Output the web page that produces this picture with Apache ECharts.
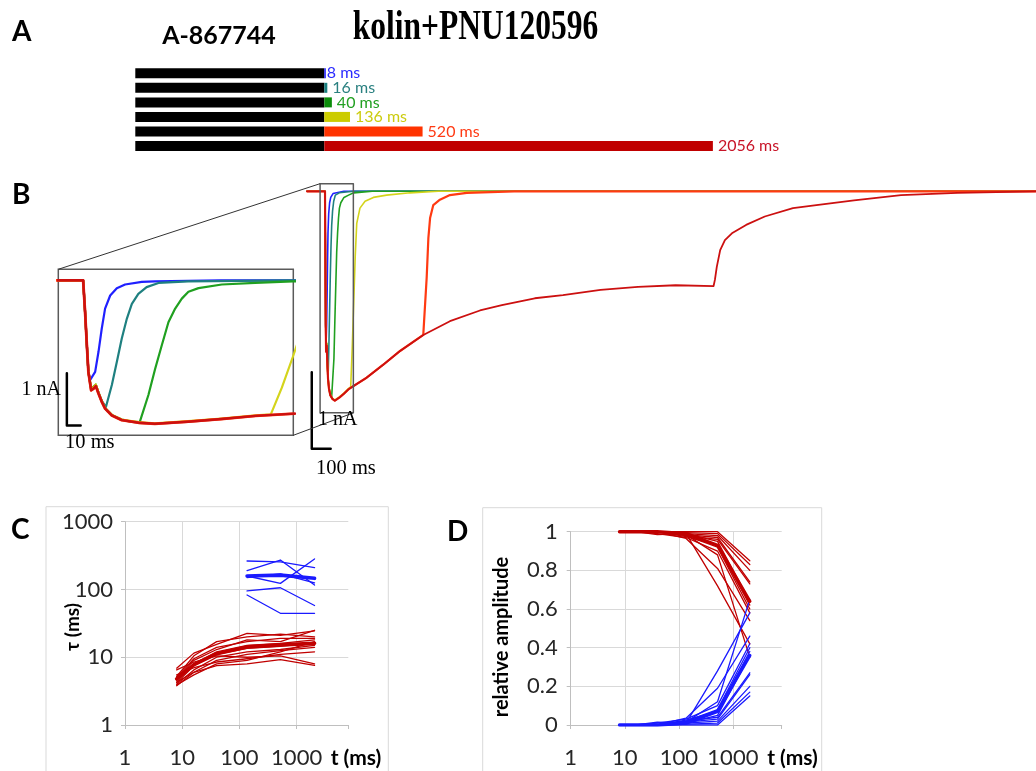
<!DOCTYPE html>
<html>
<head>
<meta charset="utf-8">
<script src="https://cdn.jsdelivr.net/npm/echarts@6/dist/echarts.min.js"></script>
<style>
  html, body { margin: 0; padding: 0; background: #ffffff; }
  #chart { width: 1036px; height: 771px; }
</style>
</head>
<body>
<div id="chart"></div>
<script>
// ---------- Panel A: application protocol ----------
const pulseNames = ['8 ms', '16 ms', '40 ms', '136 ms', '520 ms', '2056 ms'];
const prepulseMs = [1000, 1000, 1000, 1000, 1000, 1000];
const pulseMs = [8, 16, 40, 136, 520, 2056];

// ---------- Panel B: current traces, [time from pulse onset (ms), current (nA)] ----------
const trace8 = [[-95,0],[0,0],[1.4,-0.6],[2.7,-1.24],[3.8,-1.75],[5.2,-1.9],[6.5,-1.93],[8.7,-1.75],[11.1,-1.37],[13.5,-0.92],[15.9,-0.54],[19.6,-0.29],[24.4,-0.15],[30.4,-0.08],[42.5,-0.03],[52,-0.02],[100,0],[3760,0]];
const trace16 = [[-95,0],[0,0],[1.4,-0.6],[2.7,-1.24],[3.8,-1.75],[5.8,-2.08],[7.5,-2.05],[9.2,-2.0],[11.1,-2.14],[13.5,-2.3],[16.5,-2.42],[20.8,-2.0],[24.4,-1.56],[28,-1.11],[31.7,-0.73],[35.3,-0.45],[40,-0.26],[46,-0.13],[54.6,-0.05],[76,-0.02],[150,0],[3760,0]];
const trace40 = [[-95,0],[0,0],[1.4,-0.6],[2.7,-1.24],[3.8,-1.75],[5.8,-2.06],[7.5,-2.03],[9.2,-1.99],[11.1,-2.14],[13.5,-2.31],[15.9,-2.44],[20.8,-2.57],[28,-2.66],[35,-2.7],[41,-2.71],[47.3,-2.19],[52.2,-1.69],[57,-1.24],[61.8,-0.8],[66.7,-0.54],[71.5,-0.35],[76.3,-0.22],[83.6,-0.15],[100.5,-0.08],[124.6,-0.05],[152,-0.02],[250,0],[3760,0]];
const trace136 = [[-95,0],[0,0],[1.4,-0.6],[2.7,-1.24],[3.8,-1.75],[5.8,-2.07],[7.5,-2.04],[9.2,-1.99],[11.1,-2.14],[13.5,-2.31],[15.9,-2.44],[20.8,-2.57],[28,-2.66],[40,-2.71],[52,-2.73],[76,-2.69],[100,-2.64],[125,-2.58],[136,-2.56],[144,-2.05],[152,-1.46],[160,-0.85],[168,-0.42],[185,-0.22],[212,-0.13],[256,-0.08],[326,-0.05],[450,-0.02],[600,0],[3760,0]];
const trace520 = [[-95,0],[0,0],[1.4,-0.6],[2.7,-1.24],[3.8,-1.75],[5.8,-2.1],[7.5,-2.07],[9.2,-2.02],[11.1,-2.16],[13.5,-2.32],[15.9,-2.45],[20.8,-2.58],[28,-2.67],[40,-2.72],[52,-2.74],[76,-2.7],[100,-2.65],[125,-2.59],[150,-2.55],[220,-2.44],[308,-2.27],[397,-2.09],[520,-1.88],[538,-1.13],[547,-0.61],[556,-0.35],[573,-0.18],[608,-0.11],[661,-0.05],[750,-0.02],[1000,0],[3760,0]];
const trace2056 = [[-95,0],[0,0],[1.4,-0.6],[2.7,-1.24],[3.8,-1.75],[5.8,-2.1],[7.5,-2.07],[9.2,-2.02],[11.1,-2.16],[13.5,-2.32],[15.9,-2.45],[20.8,-2.58],[28,-2.67],[40,-2.72],[52,-2.74],[76,-2.7],[100,-2.65],[125,-2.59],[150,-2.55],[220,-2.44],[308,-2.27],[397,-2.09],[520,-1.88],[661,-1.7],[820,-1.56],[936,-1.49],[1110,-1.4],[1259,-1.36],[1458,-1.29],[1656,-1.25],[1855,-1.23],[2056,-1.24],[2063,-1.16],[2073,-0.99],[2091,-0.77],[2116,-0.64],[2153,-0.55],[2228,-0.44],[2327,-0.33],[2476,-0.22],[2600,-0.18],[2799,-0.12],[3048,-0.05],[3346,-0.02],[3760,0]];

// window shown enlarged in the inset (ms, nA)
const zoomBoxT = [-26, 150];
const zoomBoxI = [-2.9, 0.1];
const insetT = [-18, 152.3];
const insetI = [-2.96, 0.21];
// scale bars: 1 nA / 100 ms (main) and 1 nA / 10 ms (inset)
const scaleBarMain = [[-70, -2.37], [-70, -3.37], [30, -3.37]];
const scaleBarInset = [[-11.8, -1.775], [-11.8, -2.775], [-1.8, -2.775]];

// ---------- Panels C and D: per-cell fits vs. pulse duration ----------
const pulseTimes = [8, 16, 40, 136, 520, 2056];
const slowTimes = [136, 520, 2056];

const tauFastCells = [
  [6.9, 11.5, 15.5, 22.5, 21, 24.5],
  [5.2, 10.5, 17, 20, 22, 20],
  [4.8, 9.0, 13, 18, 17, 25],
  [4.5, 8.0, 12, 15, 16, 18],
  [4.2, 7.5, 11, 13.5, 14.5, 16.5],
  [4.0, 6.5, 10, 12, 13, 15],
  [3.8, 6.0, 9, 11, 12.5, 14],
  [5.5, 7.0, 8.5, 9.5, 11, 12],
  [4.3, 6.0, 7.5, 8.0, 9.2, 7.6],
  [6.5, 8.5, 10.5, 10.0, 10.5, 8.0],
  [3.9, 5.5, 8.0, 9.0, 12, 17],
  [5.0, 9.5, 14, 17, 19, 19]
];
const tauFastMean = [4.8, 7.8, 11.3, 14.2, 15.2, 16.0];
const tauSlowCells = [
  [263, 255, 210],
  [190, 272, 116],
  [158, 123, 282],
  [95, 106, 58],
  [83, 44.5, 44.5],
  [150, 170, 125]
];
const tauSlowMean = [158, 163, 146];

const ampFastCells = [
  [1, 1, 1, 1.0, 1.0, 0.85],
  [1, 1, 1, 0.995, 0.99, 0.83],
  [1, 1, 0.985, 0.99, 0.98, 0.80],
  [1, 1, 1, 0.985, 0.97, 0.74],
  [1, 1, 1, 0.98, 0.96, 0.73],
  [1, 1, 1, 0.99, 0.95, 0.64],
  [1, 1, 1, 0.975, 0.93, 0.62],
  [1, 1, 1, 0.98, 0.92, 0.60],
  [1, 1, 0.99, 0.97, 0.90, 0.58],
  [1, 1, 1, 0.965, 0.81, 0.54],
  [1, 1, 1, 0.99, 0.72, 0.42],
  [1, 1, 1, 0.985, 0.88, 0.35]
];
const ampFastMean = [1, 1, 1, 0.99, 0.93, 0.64];
const ampSlowCells = [
  [0, 0, 0, 0, 0.0, 0.15],
  [0, 0, 0, 0.005, 0.01, 0.17],
  [0, 0, 0.015, 0.01, 0.02, 0.20],
  [0, 0, 0, 0.015, 0.03, 0.26],
  [0, 0, 0, 0.02, 0.04, 0.27],
  [0, 0, 0, 0.01, 0.05, 0.36],
  [0, 0, 0, 0.025, 0.07, 0.38],
  [0, 0, 0, 0.02, 0.08, 0.40],
  [0, 0, 0.01, 0.03, 0.10, 0.42],
  [0, 0, 0, 0.035, 0.19, 0.46],
  [0, 0, 0, 0.01, 0.28, 0.58],
  [0, 0, 0, 0.015, 0.12, 0.65]
];
const ampSlowMean = [0, 0, 0, 0.01, 0.07, 0.36];

// ---------- styles ----------
const SANS = 'Lato, "Open Sans", "DejaVu Sans", sans-serif';
const SERIF = '"Liberation Serif", "DejaVu Serif", serif';
const pulseBarColors = ['#1a1aff', '#1a8080', '#0a8c0a', '#cccc00', '#ff3300', '#c00000'];
const pulseLabelColors = ['#2b2bff', '#2a8080', '#22a022', '#cccc10', '#ff3a14', '#c81428'];
// drawing order: later entries lie on top
const traceStyles = [
  { data: trace8, color: '#2020ff', w: 1.6 },
  { data: trace16, color: '#1f8080', w: 1.6 },
  { data: trace40, color: '#20a020', w: 1.6 },
  { data: trace136, color: '#d4d41c', w: 1.6 },
  { data: trace520, color: '#ff3a12', w: 2.2 },
  { data: trace2056, color: '#cc1010', w: 1.8 }
];
const RED = '#c00000';
const BLUE = '#1a1aff';

const chart = echarts.init(document.getElementById('chart'), null, { renderer: 'canvas' });

function isDecade(v) {
  const l = Math.log10(v);
  return Math.abs(l - Math.round(l)) < 1e-6;
}
const axisFont = { fontFamily: SANS, fontSize: 22, color: '#262626' };
function logTimeAxis(gridIndex) {
  return {
    type: 'log', gridIndex, min: 1, max: 8000, logBase: 10,
    axisLine: { show: true, lineStyle: { color: '#bfbfbf', width: 1 } },
    axisTick: { show: true, length: 4, lineStyle: { color: '#bfbfbf' } },
    axisLabel: Object.assign({ margin: 22, formatter: v => isDecade(v) ? String(Math.round(v)) : '' }, axisFont),
    splitLine: { show: true, showMinLine: false, showMaxLine: false, lineStyle: { color: '#d9d9d9', width: 1 } },
    minorTick: { show: false }, minorSplitLine: { show: false }
  };
}

const hiddenAxis = (extra) => Object.assign({ show: false, axisLine: { show: false }, axisTick: { show: false }, axisLabel: { show: false }, splitLine: { show: false } }, extra);

const grids = [
  { left: 135.3, top: 66, width: 604.8, height: 87.3 },         // A bars (0.189 px per ms)
  { left: 306.1, top: 176.02, width: 729.9, height: 282.68 },   // B main traces
  { left: 58.3, top: 269.3, width: 235, height: 166, show: true, borderColor: '#5a5a5a', borderWidth: 1.5, backgroundColor: 'transparent' }, // B inset
  { left: 125, top: 521.7, width: 223.3, height: 203.3 },       // C
  { left: 570.7, top: 531.7, width: 211, height: 193.3 }        // D
].map(g => Object.assign({ containLabel: false, outerBoundsMode: 'none' }, g));

const xAxes = [
  hiddenAxis({ type: 'value', gridIndex: 0, min: 0, max: 3200 }),
  hiddenAxis({ type: 'value', gridIndex: 1, min: -100, max: 3762 }),
  hiddenAxis({ type: 'value', gridIndex: 2, min: insetT[0], max: insetT[1] }),
  logTimeAxis(3),
  logTimeAxis(4)
];
const yAxes = [
  hiddenAxis({ type: 'category', gridIndex: 0, data: pulseNames, inverse: true }),
  hiddenAxis({ type: 'value', gridIndex: 1, min: -3.5, max: 0.2 }),
  hiddenAxis({ type: 'value', gridIndex: 2, min: insetI[0], max: insetI[1] }),
  {
    type: 'log', gridIndex: 3, min: 1, max: 1000, logBase: 10,
    axisLine: { show: true, lineStyle: { color: '#bfbfbf', width: 1 } },
    axisTick: { show: true, length: 4, lineStyle: { color: '#bfbfbf' } },
    axisLabel: Object.assign({ margin: 12, formatter: v => String(Math.round(v)) }, axisFont),
    splitLine: { show: true, showMinLine: false, lineStyle: { color: '#d9d9d9', width: 1 } },
    minorTick: { show: false }, minorSplitLine: { show: false }
  },
  {
    type: 'value', gridIndex: 4, min: 0, max: 1, interval: 0.2,
    axisLine: { show: true, lineStyle: { color: '#bfbfbf', width: 1 } },
    axisTick: { show: true, length: 4, lineStyle: { color: '#bfbfbf' } },
    axisLabel: Object.assign({ margin: 13 }, axisFont),
    splitLine: { show: true, showMinLine: false, lineStyle: { color: '#d9d9d9', width: 1 } }
  }
];

const series = [];
function line(axisIdx, data, color, width, z) {
  series.push({
    type: 'line', xAxisIndex: axisIdx, yAxisIndex: axisIdx, data,
    symbol: 'none', showSymbol: false, silent: true, z: z || 2,
    lineStyle: { color, width, join: 'round', cap: 'round' }
  });
}

// A: prepulse (black) + pulse (coloured)
series.push({
  type: 'bar', xAxisIndex: 0, yAxisIndex: 0, stack: 'protocol', barWidth: 10, silent: true,
  itemStyle: { color: '#000000' }, data: prepulseMs
});
series.push({
  type: 'bar', xAxisIndex: 0, yAxisIndex: 0, stack: 'protocol', barWidth: 10, silent: true,
  data: pulseMs.map((v, i) => ({
    value: v,
    itemStyle: { color: pulseBarColors[i] },
    label: { color: pulseLabelColors[i], distance: i === 0 ? 1 : 5 }
  })),
  label: {
    show: true, position: 'right', fontFamily: SANS, fontSize: 16,
    formatter: p => pulseNames[p.dataIndex]
  }
});

// B: traces in the main panel and in the inset
traceStyles.forEach(t => line(1, t.data, t.color, t.w, 3));
traceStyles.forEach(t => line(2, t.data, t.color, t.w + 0.6, 3));

// B: inset window outline in the main panel
line(1, [
  [zoomBoxT[0], zoomBoxI[1]], [zoomBoxT[1], zoomBoxI[1]],
  [zoomBoxT[1], zoomBoxI[0]], [zoomBoxT[0], zoomBoxI[0]], [zoomBoxT[0], zoomBoxI[1]]
], '#5a5a5a', 1.5, 4);

// B: scale bars
line(1, scaleBarMain, '#000000', 2.5, 5);
line(2, scaleBarInset, '#000000', 2.5, 5);

// C: time constants (fast = red, slow = blue), thin per cell, thick mean
tauFastCells.forEach(c => line(3, pulseTimes.map((t, i) => [t, c[i]]), RED, 1.3, 2));
tauSlowCells.forEach(c => line(3, slowTimes.map((t, i) => [t, c[i]]), BLUE, 1.3, 2));
line(3, pulseTimes.map((t, i) => [t, tauFastMean[i]]), RED, 3.6, 3);
line(3, slowTimes.map((t, i) => [t, tauSlowMean[i]]), BLUE, 3.6, 3);

// D: relative amplitudes
ampFastCells.forEach(c => line(4, pulseTimes.map((t, i) => [t, c[i]]), RED, 1.3, 2));
ampSlowCells.forEach(c => line(4, pulseTimes.map((t, i) => [t, c[i]]), BLUE, 1.3, 2));
line(4, pulseTimes.map((t, i) => [t, ampFastMean[i]]), RED, 3.4, 3);
line(4, pulseTimes.map((t, i) => [t, ampSlowMean[i]]), BLUE, 3.4, 3);

chart.setOption({
  animation: false,
  backgroundColor: '#ffffff',
  textStyle: { fontFamily: SANS },
  grid: grids,
  xAxis: xAxes,
  yAxis: yAxes,
  series
});

// ---------- text and connector graphics ----------
function txt(text, x, y, font, opt) {
  opt = opt || {};
  return Object.assign({
    type: 'text', x, y, silent: true, z: 100,
    style: { text, font, fill: opt.fill || '#000000', align: opt.align || 'left', verticalAlign: 'middle' }
  }, opt.el || {});
}
function seg(p, q, color, w) {
  return { type: 'line', silent: true, z: 90, shape: { x1: p[0], y1: p[1], x2: q[0], y2: q[1] }, style: { stroke: color, lineWidth: w } };
}

const boxTL = chart.convertToPixel({ xAxisIndex: 1, yAxisIndex: 1 }, [zoomBoxT[0], zoomBoxI[1]]);
const boxBR = chart.convertToPixel({ xAxisIndex: 1, yAxisIndex: 1 }, [zoomBoxT[1], zoomBoxI[0]]);
const insTL = chart.convertToPixel({ xAxisIndex: 2, yAxisIndex: 2 }, [insetT[0], insetI[1]]);
const insBR = chart.convertToPixel({ xAxisIndex: 2, yAxisIndex: 2 }, [insetT[1], insetI[0]]);

const graphics = [
  // chart-area frames of panels C and D
  { type: 'rect', silent: true, z: 0, shape: { x: 46, y: 506.7, width: 342.3, height: 320 }, style: { fill: 'none', stroke: '#d9d9d9', lineWidth: 1 } },
  { type: 'rect', silent: true, z: 0, shape: { x: 482.7, y: 507.7, width: 339, height: 320 }, style: { fill: 'none', stroke: '#d9d9d9', lineWidth: 1 } },
  // zoom connectors
  seg(insTL, boxTL, '#333333', 1),
  seg(insBR, boxBR, '#333333', 1),
  // panel letters
  txt('A', 12, 32, 'bold 28px ' + SANS),
  txt('B', 12, 195, 'bold 28px ' + SANS),
  txt('C', 11, 530, 'bold 28px ' + SANS),
  txt('D', 447, 532, 'bold 28px ' + SANS),
  // headings
  txt('A-867744', 219, 36, 'bold 25px ' + SANS, { align: 'center' }),
  txt('kolin+PNU120596', 475.5, 28, 'bold 31.5px ' + SERIF, { align: 'center', el: { scaleY: 1.35 } }),
  // scale bar labels
  txt('1 nA', 61, 389.5, '20px ' + SERIF, { align: 'right' }),
  txt('10 ms', 65, 443, '20.5px ' + SERIF),
  txt('1 nA', 318, 420, '20px ' + SERIF),
  txt('100 ms', 316, 468.5, '20.5px ' + SERIF),
  // axis titles
  txt('\u03c4 (ms)', 73, 627, 'bold 19px ' + SANS, { align: 'center', el: { rotation: Math.PI / 2 } }),
  txt('relative amplitude', 502, 637, 'bold 20px ' + SANS, { align: 'center', el: { rotation: Math.PI / 2 } }),
  txt('t (ms)', 356, 758, 'bold 21px ' + SANS, { align: 'center' }),
  txt('t (ms)', 792.5, 758, 'bold 21px ' + SANS, { align: 'center' })
];
chart.setOption({ graphic: graphics });
</script>
</body>
</html>
